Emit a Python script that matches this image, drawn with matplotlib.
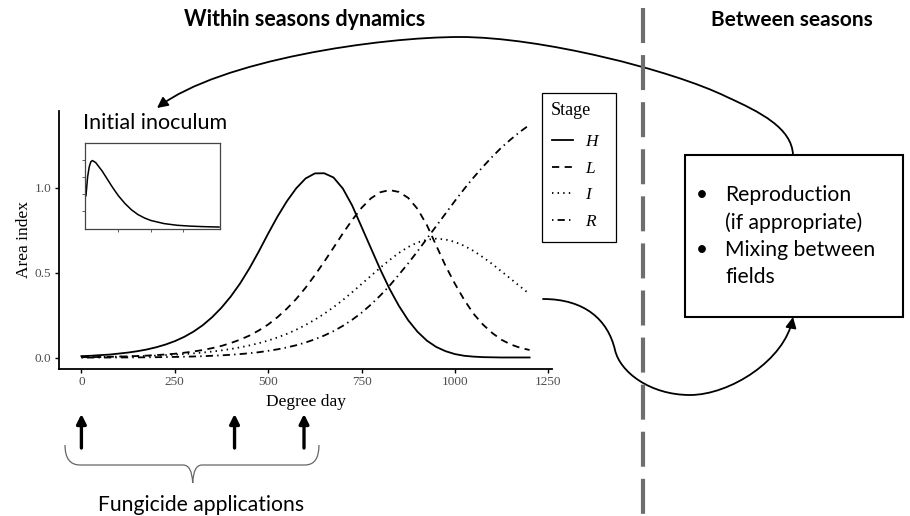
import matplotlib
matplotlib.use('Agg')
import matplotlib.pyplot as plt
from matplotlib.path import Path
from matplotlib.patches import FancyArrowPatch, PathPatch, Rectangle
from matplotlib.transforms import Affine2D
from matplotlib.lines import Line2D

# ---- data ----
degree_day = list(range(0, 1201, 25))
H = [0.009, 0.011, 0.015, 0.018, 0.024, 0.030, 0.038, 0.048, 0.061, 0.077,
     0.097, 0.122, 0.153, 0.191, 0.238, 0.294, 0.360, 0.437, 0.526, 0.625,
     0.730, 0.830, 0.920, 0.996, 1.054, 1.084, 1.085, 1.060, 0.995, 0.895,
     0.770, 0.645, 0.520, 0.405, 0.305, 0.220, 0.152, 0.100, 0.063, 0.038,
     0.021, 0.011, 0.006, 0.003, 0.002, 0.001, 0.001, 0.001, 0.001]
L = [0.0026, 0.0032, 0.0040, 0.0050, 0.0062, 0.0077, 0.0096, 0.012, 0.015, 0.0187,
     0.023, 0.029, 0.036, 0.045, 0.056, 0.069, 0.086, 0.106, 0.130, 0.160,
     0.195, 0.238, 0.288, 0.345, 0.411, 0.485, 0.564, 0.647, 0.731, 0.810,
     0.881, 0.937, 0.973, 0.986, 0.975, 0.940, 0.875, 0.780, 0.660, 0.540,
     0.435, 0.340, 0.258, 0.195, 0.145, 0.105, 0.077, 0.058, 0.045]
I = [0.0029, 0.0035, 0.0042, 0.0050, 0.0060, 0.0072, 0.0086, 0.0103, 0.0123, 0.0147,
     0.0176, 0.0211, 0.0252, 0.030, 0.0358, 0.0427, 0.0508, 0.0605, 0.0719, 0.085,
     0.1006, 0.1187, 0.1398, 0.164, 0.192, 0.2234, 0.258, 0.297, 0.339, 0.385,
     0.433, 0.481, 0.529, 0.574, 0.616, 0.651, 0.678, 0.694, 0.700, 0.695,
     0.681, 0.658, 0.628, 0.591, 0.551, 0.507, 0.463, 0.418, 0.374]
R = [0.0004, 0.0005, 0.0006, 0.0008, 0.0010, 0.0013, 0.0017, 0.0021, 0.0027, 0.0034,
     0.0043, 0.0054, 0.0068, 0.0085, 0.011, 0.0135, 0.017, 0.021, 0.026, 0.032,
     0.040, 0.049, 0.060, 0.073, 0.089, 0.108, 0.130, 0.156, 0.187, 0.223,
     0.264, 0.312, 0.365, 0.423, 0.488, 0.555, 0.626, 0.700, 0.774, 0.848,
     0.922, 0.993, 1.060, 1.123, 1.182, 1.237, 1.285, 1.330, 1.370]
stage_labels = ['H', 'L', 'I', 'R']

inoc_x = [0, 0.05, 0.1, 0.15, 0.2, 0.3, 0.4, 0.5, 0.6, 0.7, 0.8, 0.9, 1.0,
          1.2, 1.4, 1.6, 1.8, 2.0, 2.4, 2.8, 3.2, 3.6, 4.0, 4.1]
inoc_y = [1.9, 3.0, 3.6, 3.9, 3.97, 3.85, 3.6, 3.35, 3.05, 2.75, 2.45, 2.17,
          1.9, 1.45, 1.08, 0.8, 0.6, 0.45, 0.27, 0.17, 0.12, 0.09, 0.07, 0.065]

fungicide_dd = [0, 410, 596]

W, Hpx = 910, 516
SANS = ['Lato', 'DejaVu Sans']
SERIF = ['Liberation Serif', 'DejaVu Serif']

fig = plt.figure(figsize=(W / 100, Hpx / 100), dpi=100)
# figure pixel coordinates, origin top-left
pix = Affine2D().scale(1 / W, -1 / Hpx).translate(0, 1) + fig.transFigure

# ---- main axes ----
ax = fig.add_axes([59 / W, 1 - 368.7 / Hpx, (552 - 59) / W, (368.7 - 110.7) / Hpx])
styles = [dict(ls='-'),
          dict(dashes=(4, 3)),
          dict(dashes=(0.8, 2.3)),
          dict(dashes=(0.8, 2.3, 4, 2.3))]
for vals, lab, st in zip([H, L, I, R], stage_labels, styles):
    ax.plot(degree_day, vals, color='black', lw=1.3, label=lab, **st)

ax.set_xlim(-60, 1260)
ax.set_ylim(-0.065, 1.453)
ax.set_xticks([0, 250, 500, 750, 1000, 1250])
ax.set_yticks([0.0, 0.5, 1.0])
ax.set_yticklabels(['0.0', '0.5', '1.0'])
for s in ['top', 'right']:
    ax.spines[s].set_visible(False)
for s in ['left', 'bottom']:
    ax.spines[s].set_linewidth(1.3)
ax.tick_params(length=3, width=1.0, pad=2.5, labelsize=9.5, labelcolor='#4d4d4d')
for t in ax.get_xticklabels() + ax.get_yticklabels():
    t.set_family(SERIF)
ax.set_xlabel('Degree day', family=SERIF, fontsize=12.5, labelpad=4)
ax.set_ylabel('Area index', family=SERIF, fontsize=12.5, labelpad=2)

# legend: frame and title drawn separately to match the reference box
leg = fig.legend(loc='upper left', bbox_to_anchor=(551.7 / W, 1 - 134 / Hpx),
                 borderaxespad=0, borderpad=0, frameon=False,
                 handlelength=1.25, handletextpad=0.7, labelspacing=0.6,
                 prop=dict(family=SERIF, style='italic', size=12.5))
fig.add_artist(Rectangle((541.7, 93.3), 74.3, 149, transform=pix, fill=False,
                         edgecolor='black', lw=0.9))
fig.text(550.7, 110.7, 'Stage', transform=pix, family=SERIF, fontsize=13,
         ha='left', va='center')

# ---- inset: initial inoculum ----
axi = fig.add_axes([85 / W, 1 - 229 / Hpx, 135 / W, 86 / Hpx])
axi.plot(inoc_x, inoc_y, color='black', lw=1.1)
axi.set_xlim(-0.03, 4.13)
axi.set_ylim(-0.05, 5.0)
axi.set_xticks([1, 2, 3])
axi.set_yticks([1, 2, 3, 4])
axi.tick_params(length=2, width=0.6, labelbottom=False, labelleft=False, color='#444444')
for s in axi.spines.values():
    s.set_color('#444444')
    s.set_linewidth(0.9)
fig.text(83, 123, 'Initial inoculum', transform=pix, family=SANS, fontsize=15.5,
         va='center', ha='left')

# ---- headings ----
fig.text(305, 20, 'Within seasons dynamics', transform=pix, family=SANS,
         fontsize=15.5, fontweight='bold', ha='center', va='center')
fig.text(792, 20, 'Between seasons', transform=pix, family=SANS,
         fontsize=15, fontweight='bold', ha='center', va='center')

# ---- dashed divider ----
fig.add_artist(Line2D([643, 643], [8, 516], transform=pix, color='#6e6e6e',
                      lw=3, dashes=(8.4, 2.9)))

# ---- box with bullets ----
fig.add_artist(Rectangle((685, 155), 218, 162, transform=pix, fill=False,
                         edgecolor='black', lw=1.5))
for yy, txt, bullet in [(195, 'Reproduction', True), (223, '(if appropriate)', False),
                        (250, 'Mixing between', True), (277, 'fields', False)]:
    if bullet:
        fig.text(702, yy, '\u2022', transform=pix, family=SANS, fontsize=15,
                 ha='center', va='center')
    fig.text(725, yy, txt, transform=pix, family=SANS, fontsize=15.2,
             ha='left', va='center')

# ---- top curved arrow (box -> initial inoculum) ----
top_path = Path([(793, 155), (792, 128), (760, 112), (727, 97),
                 (672, 70), (540, 37), (460, 37),
                 (380, 37), (220, 60), (157, 108)],
                [Path.MOVETO] + [Path.CURVE4] * 9)
fig.add_artist(FancyArrowPatch(path=top_path, transform=pix, arrowstyle='-|>',
                               mutation_scale=16, lw=1.3, color='black'))

# ---- lower S-curve arrow (plot -> box) ----
low_path = Path([(543, 299), (585, 299), (608, 320), (615, 350),
                 (620, 372), (650, 395), (690, 395),
                 (730, 395), (785, 360), (793, 317)],
                [Path.MOVETO] + [Path.CURVE4] * 9)
fig.add_artist(FancyArrowPatch(path=low_path, transform=pix, arrowstyle='-|>',
                               mutation_scale=16, lw=1.3, color='black'))

# ---- fungicide application arrows ----
for d in fungicide_dd:
    ax.annotate('', xy=(d, 414), xytext=(d, 448), xycoords=('data', pix),
                textcoords=('data', pix), annotation_clip=False,
                arrowprops=dict(arrowstyle='-|>', lw=2.4, color='black',
                                mutation_scale=14, shrinkA=0, shrinkB=0))

# ---- brace ----
brace = Path([(65, 445), (65, 465), (80, 465), (183, 465),
              (192, 465), (192.7, 483), (193.4, 465), (202, 465),
              (305, 465), (319, 465), (319, 445)],
             [Path.MOVETO, Path.CURVE3, Path.CURVE3, Path.LINETO,
              Path.CURVE3, Path.CURVE3, Path.CURVE3, Path.CURVE3,
              Path.LINETO, Path.CURVE3, Path.CURVE3])
fig.add_artist(PathPatch(brace, transform=pix, fill=False, edgecolor='#666666', lw=0.9))
fig.text(201, 505, 'Fungicide applications', transform=pix, family=SANS,
         fontsize=15.2, ha='center', va='center')

fig.savefig('out.png', dpi=100)
